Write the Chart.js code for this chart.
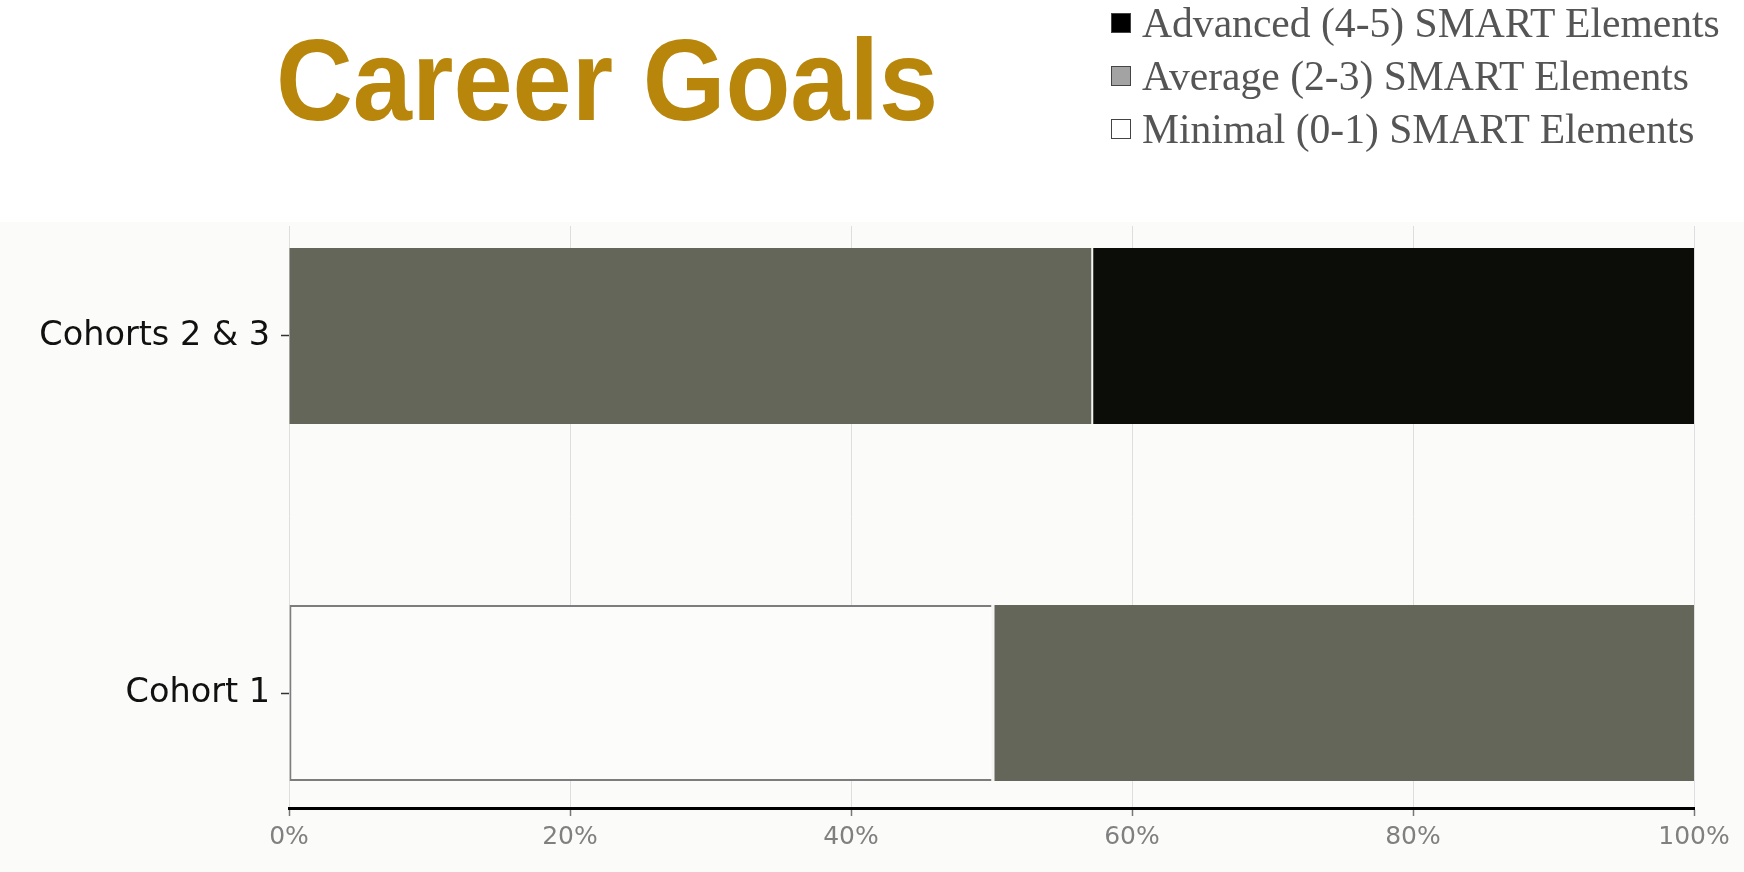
<!DOCTYPE html>
<html>
<head>
<meta charset="utf-8">
<script src="https://cdn.jsdelivr.net/npm/chart.js@4"></script>
<style>
  html, body { margin: 0; padding: 0; background: #ffffff; }
  #wrap { position: relative; width: 1744px; height: 872px; overflow: hidden; background: #ffffff; }
  #plotbg { position: absolute; left: 0; top: 222px; width: 1744px; height: 650px; background: #fbfbf9; }
  canvas { position: absolute; left: 0; top: 0; }
  #title { position: absolute; left: 276px; top: 23px; font-family: "Liberation Sans", Arial, sans-serif; font-weight: bold; font-size: 115px; line-height: 1; color: #b8860b; white-space: nowrap; transform-origin: left top; transform: scaleX(0.925); }
  #legend { position: absolute; left: 1111px; top: -4px; font-family: "Liberation Serif", "Times New Roman", serif; font-size: 41.6px; color: #555555; }
  .item { display: flex; align-items: center; height: 53px; white-space: nowrap; }
  .box { width: 18px; height: 18px; border: 1px solid #444; margin-right: 11px; box-sizing: content-box; }
</style>
</head>
<body>
<div id="wrap">
  <div id="plotbg"></div>
  <canvas id="c" width="1744" height="872"></canvas>
  <div id="title"></div>
  <div id="legend"></div>
</div>
<script>
// ---- data ----
const chartTitle = 'Career Goals';
const categories = ['Cohorts 2 & 3', 'Cohort 1'];   // top to bottom
const minimalValues = [0, 50];
const averageValues = [57.1, 50];
const advancedValues = [42.9, 0];
const seriesLabels = ['Minimal (0-1) SMART Elements', 'Average (2-3) SMART Elements', 'Advanced (4-5) SMART Elements'];
const xTickValues = [0, 20, 40, 60, 80, 100];

// ---- styles ----
const barColors = ['#fcfcfa', '#65665a', '#0c0d09'];
const legendBoxColors = ['#ffffff', '#a3a3a3', '#000000'];

const n = categories.length;
const pos = (i) => n - 1 - i;
const toPoints = (vals) => vals.map((v, i) => ({ x: v, y: pos(i) }));

document.getElementById('title').textContent = chartTitle;
const legendEl = document.getElementById('legend');
for (let k = seriesLabels.length - 1; k >= 0; k--) {
  const row = document.createElement('div');
  row.className = 'item';
  const b = document.createElement('div');
  b.className = 'box';
  b.style.background = legendBoxColors[k];
  const t = document.createElement('span');
  t.textContent = seriesLabels[k];
  row.appendChild(b); row.appendChild(t);
  legendEl.appendChild(row);
}

const gapColor = '#f4f4f0';
new Chart(document.getElementById('c'), {
  type: 'bar',
  data: {
    datasets: [
      {
        label: seriesLabels[0],
        data: toPoints(minimalValues),
        backgroundColor: barColors[0],
        borderColor: '#7d7d7d',
        borderWidth: { top: 2, bottom: 2, left: 2, right: 0 },
        borderSkipped: false
      },
      {
        label: seriesLabels[1],
        data: toPoints(averageValues),
        backgroundColor: barColors[1],
        borderColor: gapColor,
        borderWidth: (ctx) => ({ top: 0, bottom: 0, right: 0, left: minimalValues[ctx.dataIndex] > 0 ? 3 : 0 }),
        borderSkipped: false
      },
      {
        label: seriesLabels[2],
        data: toPoints(advancedValues),
        backgroundColor: barColors[2],
        borderColor: gapColor,
        borderWidth: { top: 0, bottom: 0, right: 0, left: 2 },
        borderSkipped: false
      }
    ]
  },
  options: {
    indexAxis: 'y',
    responsive: false,
    animation: false,
    events: [],
    layout: { padding: { top: 226, right: 50, bottom: 0, left: 0 } },
    datasets: { bar: { categoryPercentage: 1, barPercentage: 0.493 } },
    plugins: { legend: { display: false }, title: { display: false }, tooltip: { enabled: false } },
    scales: {
      x: {
        type: 'linear',
        stacked: true,
        min: 0,
        max: 100,
        afterBuildTicks: (s) => { s.ticks = xTickValues.map(v => ({ value: v })); },
        afterFit: (s) => { s.height = 64; },
        grid: { color: '#dedede', lineWidth: 1, drawTicks: true, tickLength: 8, tickColor: '#777777', tickWidth: 1.5 },
        border: { display: true, color: '#000000', width: 3 },
        ticks: { padding: 6, color: '#808080', font: { family: 'DejaVu Sans', size: 25 }, callback: (v) => v + '%' }
      },
      y: {
        type: 'linear',
        stacked: true,
        offset: false,
        min: -0.322,
        max: 1.308,
        afterBuildTicks: (s) => { s.ticks = categories.map((_, i) => ({ value: i })); },
        afterFit: (s) => { s.width = 289; },
        grid: { display: true, offset: false, drawOnChartArea: false, drawTicks: true, tickLength: 8, tickColor: '#333333', tickWidth: 1.5 },
        border: { display: false },
        ticks: { padding: 11, color: '#111111', font: { family: 'DejaVu Sans', size: 33.5 }, callback: (v) => categories[pos(v)] }
      }
    }
  }
});
</script>
</body>
</html>
